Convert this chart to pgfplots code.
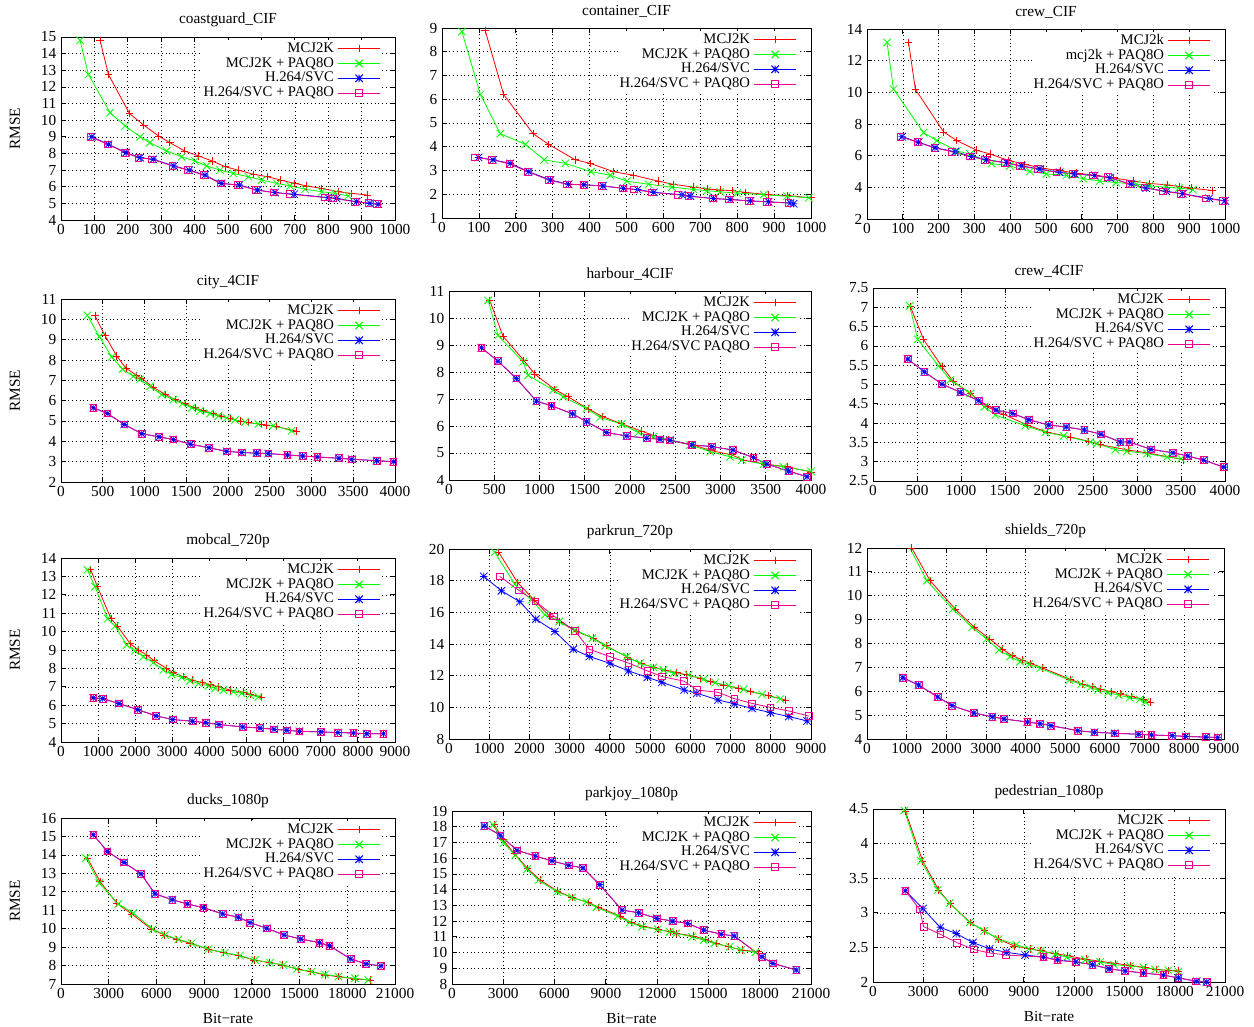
\documentclass[border=0pt]{standalone}
\usepackage{fontspec}
\setmainfont{Liberation Serif}
\usepackage{pgfplots}
\pgfplotsset{compat=1.18}

% gnuplot-like marks: x and * reach the full mark size
\pgfdeclareplotmark{gpx}{%
  \pgfpathmoveto{\pgfqpoint{-\pgfplotmarksize}{-\pgfplotmarksize}}%
  \pgfpathlineto{\pgfqpoint{\pgfplotmarksize}{\pgfplotmarksize}}%
  \pgfpathmoveto{\pgfqpoint{-\pgfplotmarksize}{\pgfplotmarksize}}%
  \pgfpathlineto{\pgfqpoint{\pgfplotmarksize}{-\pgfplotmarksize}}%
  \pgfusepathqstroke}
\pgfdeclareplotmark{gpstar}{%
  \pgfpathmoveto{\pgfqpoint{-\pgfplotmarksize}{0pt}}%
  \pgfpathlineto{\pgfqpoint{\pgfplotmarksize}{0pt}}%
  \pgfpathmoveto{\pgfqpoint{0pt}{-\pgfplotmarksize}}%
  \pgfpathlineto{\pgfqpoint{0pt}{\pgfplotmarksize}}%
  \pgfpathmoveto{\pgfqpoint{-\pgfplotmarksize}{-\pgfplotmarksize}}%
  \pgfpathlineto{\pgfqpoint{\pgfplotmarksize}{\pgfplotmarksize}}%
  \pgfpathmoveto{\pgfqpoint{-\pgfplotmarksize}{\pgfplotmarksize}}%
  \pgfpathlineto{\pgfqpoint{\pgfplotmarksize}{-\pgfplotmarksize}}%
  \pgfusepathqstroke}

\newcommand\fs{\fontsize{11.5}{12}\selectfont}
\newcommand\lfs{\fontsize{11}{11}\selectfont}

\pgfplotsset{
  gp/.style={
    scale only axis, anchor=north west, xmin=0,
    axis line style={black, line width=0.7pt},
    grid=major,
    major grid style={black, line width=0.45pt, dash pattern=on 0.6pt off 2.2pt},
    major tick length=4pt,
    tick style={black, line width=0.6pt},
    scaled ticks=false,
    /pgf/number format/1000 sep={},
    /pgf/number format/assume math mode=true,
    tick label style={font=\fs},
    title style={font=\fs, yshift=-2pt},
    label style={font=\fs},
    legend cell align=right,
    legend plot pos=right,
    legend style={at={(1,1)}, anchor=north east, xshift=-9.5pt, yshift=-2pt,
      draw=none, fill=white, font=\lfs, inner sep=0.8pt, row sep=0pt,
      /tikz/every odd column/.append style={column sep=2.5pt},
      nodes={inner sep=0pt, text height=8.3pt, text depth=2.9pt}},
    legend image code/.code={\draw[line width=0.8pt, mark repeat=2, mark phase=2] plot coordinates {(0pt,0pt) (16pt,0pt) (32pt,0pt)};},
    every axis plot/.append style={line width=0.6pt},
    ylabel style={at={(axis description cs:-0.138,0.5)}, anchor=center},
    xlabel style={at={(axis description cs:0.5,0)}, anchor=center, yshift=-25.5pt},
  },
  s1/.style={color=red, mark=+, mark size=2.8pt},
  s2/.style={color=green, mark=gpx, mark size=2.8pt},
  s3/.style={color=blue, mark=gpstar, mark size=2.8pt},
  s4/.style={color=magenta, mark=square, mark size=2.5pt},
}

\begin{document}
\begin{tikzpicture}
\path[use as bounding box] (0pt,0pt) rectangle (940.5pt,-769.5pt);

% ---- row 1 ----
\begin{axis}[gp, at={(45.75pt,-27.75pt)}, width=250.5pt, height=137.25pt,
  title={coastguard\_CIF}, ylabel={RMSE},
  xmax=1000, ymin=4, ymax=15, xtick distance=100, ytick distance=1]
\addplot[s1] coordinates {(117,14.8)(142,12.75)(205,10.4)(248,9.7)(292,9.05)(326,8.65)(370,8.15)(412,7.85)(452,7.55)(492,7.2)(530,7.0)(577,6.75)(618,6.6)(658,6.4)(700,6.2)(735,6.05)(780,5.9)(830,5.7)(870,5.6)(918,5.5)};
\addplot[s2] coordinates {(57,14.8)(82,12.75)(147,10.45)(192,9.65)(237,9.0)(266,8.65)(316,8.15)(361,7.8)(401,7.55)(436,7.25)(476,7.0)(516,6.8)(561,6.6)(601,6.4)(646,6.2)(686,6.05)(731,5.85)(781,5.7)(820,5.6)(860,5.45)};
\addplot[s3] coordinates {(92,9.0)(142,8.55)(195,8.05)(237,7.75)(276,7.65)(338,7.25)(384,7.0)(431,6.7)(481,6.2)(534,6.1)(588,5.8)(641,5.65)(698,5.55)(800,5.35)(825,5.3)(885,5.1)(925,5.0)(950,4.95)};
\addplot[s4] coordinates {(88,9.0)(140,8.55)(192,8.05)(232,7.75)(272,7.65)(334,7.25)(380,7.0)(428,6.7)(478,6.2)(530,6.1)(584,5.8)(636,5.65)(686,5.55)(790,5.35)(815,5.3)(880,5.1)(920,5.02)(945,4.98)};
\legend{MCJ2K, MCJ2K + PAQ8O, H.264/SVC, H.264/SVC + PAQ8O}
\end{axis}

\begin{axis}[gp, at={(331.5pt,-21pt)}, width=276.75pt, height=142.5pt,
  title={container\_CIF},
  xmax=1000, ymin=1, ymax=9, xtick distance=100, ytick distance=1]
\addplot[s1] coordinates {(117,8.9)(167,6.2)(247,4.55)(289,4.1)(361,3.45)(402,3.3)(465,2.95)(519,2.8)(587,2.55)(626,2.42)(682,2.3)(720,2.22)(754,2.18)(786,2.15)(822,2.08)(885,1.98)(935,1.95)(1000,1.85)};
\addplot[s2] coordinates {(54,8.85)(104,6.2)(158,4.55)(226,4.1)(277,3.45)(334,3.3)(404,2.95)(456,2.8)(501,2.55)(560,2.42)(623,2.3)(682,2.2)(718,2.15)(754,2.1)(800,2.05)(872,1.98)(935,1.92)(994,1.85)};
\addplot[s3] coordinates {(99,3.55)(138,3.45)(185,3.3)(235,2.95)(294,2.6)(343,2.42)(384,2.4)(436,2.35)(492,2.25)(530,2.2)(574,2.08)(650,1.98)(673,1.92)(736,1.82)(781,1.78)(836,1.72)(885,1.68)(944,1.63)(953,1.6)};
\addplot[s4] coordinates {(90,3.55)(136,3.45)(183,3.28)(232,2.95)(289,2.6)(339,2.42)(384,2.4)(434,2.35)(490,2.25)(520,2.2)(569,2.08)(639,1.98)(668,1.92)(734,1.82)(777,1.78)(831,1.72)(881,1.68)(939,1.63)};
\legend{MCJ2K, MCJ2K + PAQ8O, H.264/SVC, H.264/SVC + PAQ8O}
\end{axis}

\begin{axis}[gp, at={(650.25pt,-21.75pt)}, width=268.5pt, height=142.5pt,
  title={crew\_CIF},
  xmax=1000, ymin=2, ymax=14, xtick distance=100, ytick distance=2]
\addplot[s1] coordinates {(116,13.15)(135,10.2)(214,7.5)(251,6.95)(306,6.35)(344,6.1)(395,5.7)(441,5.45)(492,5.2)(539,5.05)(585,4.9)(641,4.75)(687,4.6)(743,4.4)(789,4.25)(840,4.15)(873,4.05)(905,3.95)(964,3.8)};
\addplot[s2] coordinates {(56,13.15)(74,10.2)(158,7.45)(195,6.95)(251,6.3)(288,6.1)(348,5.5)(399,5.35)(455,5.0)(501,4.85)(557,4.75)(604,4.55)(650,4.4)(696,4.3)(752,4.2)(789,4.1)(836,4.0)(871,3.95)(910,3.85)};
\addplot[s3] coordinates {(98,7.2)(144,6.85)(190,6.5)(246,6.25)(292,5.95)(334,5.75)(390,5.55)(432,5.35)(483,5.15)(538,4.95)(580,4.85)(636,4.75)(678,4.6)(738,4.2)(780,3.95)(836,3.75)(882,3.6)(956,3.3)(1000,3.15)};
\addplot[s4] coordinates {(93,7.2)(141,6.85)(188,6.5)(237,6.25)(288,5.95)(330,5.75)(385,5.55)(427,5.35)(478,5.15)(529,4.95)(574,4.85)(631,4.75)(673,4.65)(734,4.2)(775,4.0)(826,3.75)(877,3.6)(947,3.3)(994,3.15)};
\legend{MCJ2k, mcj2k + PAQ8O, H.264/SVC, H.264/SVC + PAQ8O}
\end{axis}

% ---- row 2 ----
\begin{axis}[gp, at={(45.75pt,-224.25pt)}, width=250.5pt, height=137.25pt,
  title={city\_4CIF}, ylabel={RMSE},
  xmax=4000, ymin=2, ymax=11, xtick distance=500, ytick distance=1]
\addplot[s1] coordinates {(407,10.17)(527,9.2)(667,8.2)(778,7.6)(906,7.25)(966,7.1)(1106,6.65)(1254,6.3)(1365,6.05)(1485,5.85)(1605,5.65)(1705,5.5)(1824,5.35)(1924,5.25)(2024,5.12)(2144,5.0)(2244,4.92)(2403,4.83)(2463,4.8)(2583,4.72)(2822,4.5)};
\addplot[s2] coordinates {(315,10.2)(459,9.15)(607,8.15)(738,7.55)(866,7.2)(946,7.05)(1066,6.7)(1206,6.3)(1345,6.05)(1457,5.85)(1565,5.65)(1665,5.5)(1784,5.37)(1884,5.25)(1984,5.15)(2084,5.05)(2204,4.95)(2363,4.85)(2543,4.77)(2762,4.52)};
\addplot[s3] coordinates {(387,5.65)(555,5.37)(758,4.83)(966,4.38)(1174,4.22)(1345,4.09)(1553,3.86)(1772,3.68)(1984,3.51)(2164,3.45)(2343,3.42)(2483,3.4)(2711,3.33)(2894,3.28)(3070,3.23)(3329,3.17)(3481,3.12)(3780,3.05)(3980,3.0)};
\addplot[s4] coordinates {(387,5.65)(555,5.37)(758,4.83)(966,4.38)(1174,4.22)(1345,4.09)(1553,3.86)(1772,3.68)(1984,3.51)(2164,3.45)(2343,3.42)(2483,3.4)(2711,3.33)(2894,3.28)(3070,3.23)(3329,3.17)(3481,3.12)(3780,3.05)(3980,3.0)};
\legend{MCJ2K, MCJ2K + PAQ8O, H.264/SVC, H.264/SVC + PAQ8O}
\end{axis}

\begin{axis}[gp, at={(336.75pt,-218.25pt)}, width=271.5pt, height=141.75pt,
  title={harbour\_4CIF},
  xmax=4000, ymin=4, ymax=11, xtick distance=500, ytick distance=1]
\addplot[s1] coordinates {(450,10.65)(598,9.32)(827,8.43)(948,7.92)(1170,7.35)(1317,7.08)(1539,6.63)(1697,6.35)(1908,6.08)(2129,5.81)(2258,5.65)(2424,5.49)(2701,5.3)(2893,5.09)(3125,4.93)(3254,4.74)(3494,4.59)(3734,4.49)(4000,4.3)};
\addplot[s2] coordinates {(432,10.65)(542,9.36)(819,8.37)(875,7.88)(1151,7.33)(1262,7.08)(1520,6.65)(1668,6.32)(1908,6.07)(2092,5.76)(2258,5.6)(2443,5.49)(2664,5.3)(2886,5.05)(3107,4.86)(3236,4.74)(3476,4.59)(3697,4.49)(4000,4.32)};
\addplot[s3] coordinates {(358,8.9)(542,8.4)(745,7.76)(967,6.92)(1133,6.75)(1365,6.45)(1520,6.16)(1742,5.76)(1963,5.63)(2185,5.55)(2332,5.51)(2443,5.47)(2683,5.3)(2904,5.24)(3137,5.11)(3365,4.83)(3513,4.59)(3753,4.33)(3956,4.12)};
\addplot[s4] coordinates {(358,8.9)(542,8.4)(745,7.76)(967,6.92)(1133,6.75)(1365,6.45)(1520,6.16)(1742,5.76)(1963,5.63)(2185,5.55)(2332,5.51)(2443,5.47)(2683,5.3)(2904,5.24)(3137,5.11)(3365,4.83)(3513,4.59)(3753,4.33)(3956,4.12)};
\legend{MCJ2K, MCJ2K + PAQ8O, H.264/SVC, H.264/SVC PAQ8O}
\end{axis}

\begin{axis}[gp, at={(654.75pt,-216pt)}, width=264pt, height=144.75pt,
  title={crew\_4CIF},
  xmax=4000, ymin=2.5, ymax=7.5, xtick distance=500, ytick distance=0.5]
\addplot[s1] coordinates {(424,7.02)(576,6.16)(784,5.46)(917,5.07)(1106,4.77)(1295,4.42)(1485,4.23)(1750,3.95)(1977,3.77)(2242,3.64)(2451,3.53)(2583,3.44)(2905,3.3)(3114,3.23)(3530,3.05)};
\addplot[s2] coordinates {(417,7.04)(508,6.17)(746,5.48)(879,5.12)(1106,4.77)(1265,4.42)(1390,4.21)(1731,3.93)(1958,3.76)(2167,3.67)(2470,3.51)(2545,3.47)(2754,3.31)(2886,3.27)(3114,3.21)(3341,3.12)(3500,3.08)};
\addplot[s3] coordinates {(394,5.66)(583,5.33)(784,5.01)(992,4.8)(1201,4.58)(1398,4.34)(1587,4.25)(1769,4.09)(1996,3.95)(2197,3.9)(2402,3.82)(2591,3.71)(2811,3.51)(2913,3.51)(3159,3.32)(3409,3.23)(3576,3.15)(3758,3.04)(3985,2.86)};
\addplot[s4] coordinates {(394,5.66)(583,5.33)(784,5.01)(992,4.8)(1201,4.58)(1398,4.34)(1587,4.25)(1769,4.09)(1996,3.95)(2197,3.9)(2402,3.82)(2591,3.71)(2811,3.51)(2913,3.51)(3159,3.32)(3409,3.23)(3576,3.15)(3758,3.04)(3985,2.86)};
\legend{MCJ2K, MCJ2K + PAQ8O, H.264/SVC, H.264/SVC + PAQ8O}
\end{axis}

% ---- row 3 ----
\begin{axis}[gp, at={(45.75pt,-418.5pt)}, width=250.5pt, height=138pt,
  title={mobcal\_720p}, ylabel={RMSE},
  xmax=9000, ymin=4, ymax=14, xtick distance=1000, ytick distance=1]
\addplot[s1] coordinates {(800,13.36)(979,12.45)(1348,10.7)(1518,10.3)(1860,9.36)(2084,9.0)(2309,8.73)(2507,8.42)(2848,8.0)(3028,7.76)(3297,7.55)(3549,7.36)(3810,7.22)(4016,7.13)(4241,7.0)(4555,6.82)(4915,6.71)(5094,6.6)(5409,6.45)};
\addplot[s2] coordinates {(710,13.36)(916,12.45)(1258,10.7)(1455,10.3)(1770,9.27)(1995,8.96)(2219,8.64)(2489,8.31)(2758,7.91)(2983,7.67)(3252,7.51)(3477,7.33)(3702,7.18)(3971,7.05)(4151,6.91)(4376,6.82)(4645,6.73)(4870,6.64)(5094,6.55)(5319,6.45)};
\addplot[s3] coordinates {(871,6.4)(1123,6.36)(1563,6.09)(2066,5.76)(2561,5.42)(3010,5.22)(3549,5.13)(3900,5.05)(4259,4.95)(4897,4.82)(5364,4.76)(5741,4.69)(6083,4.64)(6424,4.58)(7008,4.55)(7457,4.51)(7880,4.49)(8239,4.45)(8688,4.45)};
\addplot[s4] coordinates {(871,6.4)(1123,6.36)(1563,6.09)(2066,5.76)(2561,5.42)(3010,5.22)(3549,5.13)(3900,5.05)(4259,4.95)(4897,4.82)(5364,4.76)(5741,4.69)(6083,4.64)(6424,4.58)(7008,4.55)(7457,4.51)(7880,4.49)(8239,4.45)(8688,4.45)};
\legend{MCJ2K, MCJ2K + PAQ8O, H.264/SVC, H.264/SVC + PAQ8O}
\end{axis}

\begin{axis}[gp, at={(336.75pt,-411.75pt)}, width=271.5pt, height=142.5pt,
  title={parkrun\_720p},
  xmax=9000, ymin=8, ymax=20, xtick distance=1000, ytick distance=2]
\addplot[s1] coordinates {(1237,19.79)(1703,17.89)(2135,16.73)(2508,15.74)(2757,15.38)(3173,14.79)(3588,14.37)(3904,13.89)(4435,13.17)(4792,12.75)(5083,12.53)(5374,12.36)(5664,12.19)(5914,12.05)(6246,11.83)(6495,11.62)(6827,11.41)(7201,11.2)(7492,10.99)(7949,10.74)(8364,10.47)};
\addplot[s2] coordinates {(1138,19.79)(1636,17.78)(2051,16.79)(2384,15.84)(2741,15.42)(3131,14.89)(3563,14.37)(3879,13.89)(4419,13.21)(4751,12.78)(5083,12.53)(5332,12.36)(5582,12.15)(5955,12.05)(6329,11.77)(6619,11.56)(6952,11.37)(7326,11.14)(7782,10.82)(8239,10.53)};
\addplot[s3] coordinates {(864,18.27)(1304,17.36)(1761,16.67)(2159,15.57)(2633,14.79)(3090,13.67)(3488,13.21)(4003,12.78)(4460,12.3)(4934,11.9)(5291,11.58)(5847,11.1)(6163,10.89)(6686,10.47)(7093,10.22)(7533,9.94)(7990,9.67)(8447,9.42)(8904,9.14)};
\addplot[s4] coordinates {(1262,18.27)(1744,17.38)(2151,16.69)(2616,15.75)(3131,14.83)(3488,13.67)(4003,13.2)(4460,12.8)(4934,12.3)(5291,11.95)(5847,11.65)(6163,11.1)(6686,10.95)(7093,10.55)(7533,10.25)(7990,10.0)(8447,9.77)(8950,9.45)};
\legend{MCJ2K, MCJ2K + PAQ8O, H.264/SVC, H.264/SVC + PAQ8O}
\end{axis}

\begin{axis}[gp, at={(650.25pt,-411pt)}, width=267.75pt, height=143.25pt,
  title={shields\_720p},
  xmax=9000, ymin=4, ymax=12, xtick distance=1000, ytick distance=1]
\addplot[s1] coordinates {(1127,12.0)(1592,10.63)(2225,9.44)(2707,8.68)(3096,8.19)(3408,7.77)(3662,7.49)(3915,7.31)(4126,7.17)(4422,6.98)(5123,6.5)(5436,6.3)(5689,6.19)(5883,6.09)(6154,5.98)(6390,5.89)(6660,5.78)(6956,5.66)(7150,5.55)};
\addplot[s2] coordinates {(1068,12.04)(1508,10.63)(2166,9.44)(2648,8.68)(3015,8.19)(3328,7.73)(3607,7.45)(3860,7.24)(4088,7.13)(4367,6.96)(5101,6.47)(5397,6.29)(5633,6.16)(5819,6.05)(6073,5.94)(6343,5.84)(6622,5.73)(6875,5.66)(7020,5.55)};
\addplot[s3] coordinates {(904,6.57)(1301,6.26)(1782,5.76)(2145,5.4)(2694,5.09)(3159,4.93)(3454,4.84)(4046,4.71)(4358,4.64)(4637,4.56)(5312,4.35)(5735,4.28)(6242,4.24)(6850,4.2)(7171,4.17)(7694,4.14)(8032,4.11)(8539,4.08)(8843,4.07)};
\addplot[s4] coordinates {(904,6.57)(1301,6.26)(1782,5.76)(2145,5.4)(2694,5.09)(3159,4.93)(3454,4.84)(4046,4.71)(4358,4.64)(4637,4.56)(5312,4.35)(5735,4.28)(6242,4.24)(6850,4.2)(7171,4.17)(7694,4.14)(8032,4.11)(8539,4.08)(8843,4.07)};
\legend{MCJ2K, MCJ2K + PAQ8O, H.264/SVC, H.264/SVC + PAQ8O}
\end{axis}

% ---- row 4 ----
\begin{axis}[gp, at={(45.75pt,-613.5pt)}, width=250.5pt, height=124.5pt,
  title={ducks\_1080p}, ylabel={RMSE}, xlabel={Bit−rate},
  xmax=21000, ymin=7, ymax=16, xtick distance=3000, ytick distance=1]
\addplot[s1] coordinates {(1656,13.83)(2452,12.56)(3500,11.38)(4443,10.8)(5701,9.97)(6476,9.66)(7273,9.42)(8111,9.21)(9264,8.88)(10207,8.7)(11151,8.54)(12136,8.3)(13100,8.16)(13938,8.03)(14923,7.8)(15699,7.67)(16600,7.49)(17438,7.4)(18486,7.27)(19471,7.22)};
\addplot[s2] coordinates {(1572,13.83)(2410,12.47)(3605,11.34)(4548,10.84)(5764,9.97)(6539,9.66)(7378,9.42)(8216,9.21)(9264,8.88)(10312,8.7)(11255,8.54)(12199,8.3)(13142,8.16)(13980,8.03)(14818,7.8)(15762,7.67)(16600,7.52)(17438,7.4)(18486,7.31)(19324,7.22)};
\addplot[s3] coordinates {(2033,15.09)(2913,14.19)(3961,13.59)(5030,12.97)(5910,11.89)(7000,11.57)(7944,11.34)(8950,11.14)(10166,10.8)(11151,10.62)(11884,10.33)(12932,10.02)(14022,9.66)(15070,9.44)(16244,9.24)(16873,9.08)(18214,8.36)(19179,8.09)(20122,7.98)};
\addplot[s4] coordinates {(2033,15.09)(2913,14.19)(3961,13.59)(5030,12.97)(5910,11.89)(7000,11.57)(7944,11.34)(8950,11.14)(10166,10.8)(11151,10.62)(11884,10.33)(12932,10.02)(14022,9.66)(15070,9.44)(16244,9.24)(16873,9.08)(18214,8.36)(19179,8.09)(20122,7.98)};
\legend{MCJ2K, MCJ2K + PAQ8O, H.264/SVC, H.264/SVC + PAQ8O}
\end{axis}

\begin{axis}[gp, at={(339pt,-608.25pt)}, width=269.25pt, height=129.75pt,
  title={parkjoy\_1080p}, xlabel={Bit−rate},
  xmax=21000, ymin=8, ymax=19, xtick distance=3000, ytick distance=1]
\addplot[s1] coordinates {(2476,18.13)(2983,17.18)(3646,16.29)(4426,15.34)(5167,14.6)(6181,13.9)(7019,13.5)(7994,13.18)(8579,12.87)(9846,12.32)(10470,11.91)(11172,11.68)(12088,11.47)(12770,11.32)(13121,11.22)(14135,11.05)(14817,10.83)(15461,10.58)(16183,10.37)(16962,10.16)(17937,10.05)};
\addplot[s2] coordinates {(2398,18.13)(3022,16.97)(3704,16.19)(4387,15.3)(5069,14.6)(6142,13.86)(7019,13.5)(7858,13.22)(8443,12.87)(9690,12.32)(10392,11.91)(11113,11.64)(12030,11.47)(12732,11.32)(13121,11.22)(14038,11.0)(14720,10.79)(15344,10.58)(16241,10.37)(16904,10.16)(17742,10.01)};
\addplot[s3] coordinates {(1891,18.05)(2827,17.46)(3802,16.5)(4874,16.14)(5849,15.83)(6824,15.55)(7662,15.38)(8637,14.32)(9943,12.7)(10918,12.53)(11990,12.17)(12907,12.0)(13784,11.85)(14720,11.43)(15753,11.17)(16514,11.05)(18132,9.73)(18776,9.31)(20140,8.89)};
\addplot[s4] coordinates {(1891,18.05)(2827,17.46)(3802,16.5)(4874,16.14)(5849,15.83)(6824,15.55)(7662,15.38)(8637,14.32)(9943,12.7)(10918,12.53)(11990,12.17)(12907,12.0)(13784,11.85)(14720,11.43)(15753,11.17)(16514,11.05)(18132,9.73)(18776,9.31)(20140,8.89)};
\legend{MCJ2K, MCJ2K + PAQ8O, H.264/SVC, H.264/SVC + PAQ8O}
\end{axis}

\begin{axis}[gp, at={(654.75pt,-606.75pt)}, width=264pt, height=129.75pt,
  title={pedestrian\_1080p}, xlabel={Bit−rate},
  xmax=21000, ymin=2, ymax=4.5, xtick distance=3000, ytick distance=0.5]
\addplot[s1] coordinates {(1927,4.47)(2960,3.75)(3914,3.33)(4610,3.13)(5802,2.86)(6636,2.74)(7491,2.62)(8425,2.52)(9378,2.48)(10014,2.45)(10868,2.41)(11603,2.38)(12716,2.33)(13511,2.3)(14445,2.27)(15339,2.24)(16233,2.21)(16889,2.18)(17624,2.17)(18220,2.16)};
\addplot[s2] coordinates {(1868,4.48)(2861,3.75)(3855,3.33)(4570,3.14)(5762,2.86)(6636,2.74)(7491,2.62)(8544,2.54)(9279,2.48)(10014,2.45)(10868,2.4)(11564,2.36)(12657,2.32)(13551,2.29)(14385,2.25)(15339,2.23)(16134,2.21)(16829,2.18)(17624,2.17)(18220,2.15)};
\addplot[s3] coordinates {(1927,3.32)(2980,3.06)(4013,2.79)(4967,2.7)(5961,2.57)(6954,2.48)(7948,2.43)(9080,2.39)(10173,2.36)(11007,2.32)(12100,2.29)(13094,2.25)(14087,2.19)(15041,2.16)(16134,2.13)(17326,2.1)(18220,2.06)(19313,2.01)(19909,2.0)};
\addplot[s4] coordinates {(1927,3.32)(2782,3.05)(3020,2.8)(4013,2.69)(5007,2.57)(6000,2.47)(6954,2.42)(7948,2.39)(10173,2.36)(11007,2.31)(12100,2.29)(13094,2.25)(14087,2.19)(15041,2.16)(16134,2.13)(17326,2.1)(18220,2.06)(19274,2.01)(19909,2.0)};
\legend{MCJ2K, MCJ2K + PAQ8O, H.264/SVC, H.264/SVC + PAQ8O}
\end{axis}

\end{tikzpicture}
\end{document}
